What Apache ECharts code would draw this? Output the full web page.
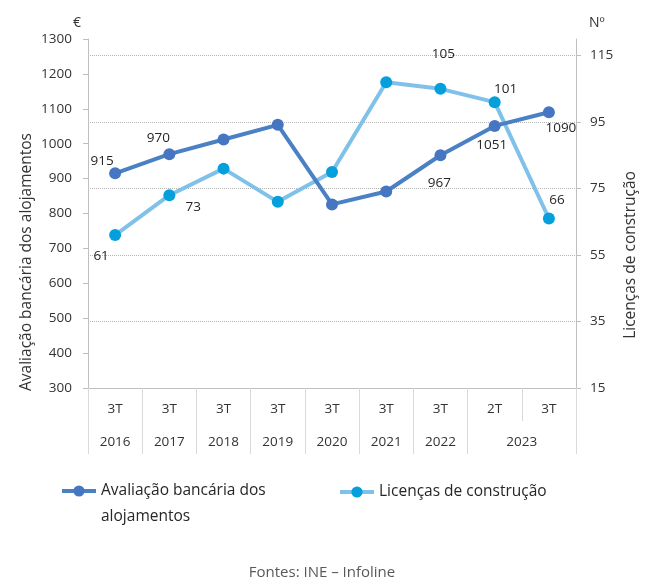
<!DOCTYPE html>
<html>
<head>
<meta charset="utf-8">
<script src="https://cdn.jsdelivr.net/npm/echarts@6/dist/echarts.min.js"></script>
<style>
html,body{margin:0;padding:0;background:#fff;}
#chart{width:649px;height:583px;}
</style>
</head>
<body>
<div id="chart"></div>
<script>
// ---- data ----
var quarters = ['3T', '3T', '3T', '3T', '3T', '3T', '3T', '2T', '3T'];
var years = ['2016', '2017', '2018', '2019', '2020', '2021', '2022', '2023', ''];
var avaliacao = [915, 970, 1012, 1054, 826, 863, 967, 1051, 1090];
var licencas = [61, 73, 81, 71, 80, 107, 105, 101, 66];
var leftTicks = [300, 1300, 100];   // min, max, interval
var rightTicks = [15, 120, 20];     // min, max, interval
var nameA = 'Avaliação bancária dos alojamentos';
var nameB = 'Licenças de construção';

// ---- styling (label placement per point) ----
var labelOffA = {0: [-13, -12], 1: [-11, -16], 6: [-1, 28], 7: [-3, 19], 8: [12, 16]};
var labelOffB = {0: [-14, 21], 1: [24, 12], 6: [3, -35], 7: [11, -13], 8: [8, -18]};

var FONT = 'Open Sans';
var TXT = '#333333';

function withLabels(values, offs) {
  return values.map(function (v, i) {
    var o = offs[i];
    return {
      value: v,
      label: o ? {show: true, position: 'inside', offset: o} : {show: false}
    };
  });
}

var chart = echarts.init(document.getElementById('chart'), null, {renderer: 'canvas'});
var labelStyle = {
  color: '#262626', fontFamily: FONT, fontSize: 13.5, align: 'center', verticalAlign: 'middle'
};

chart.setOption({
  animation: false,
  backgroundColor: '#ffffff',
  textStyle: {fontFamily: FONT},
  grid: {left: 88, right: 73, top: 39, bottom: 195, containLabel: false},
  legend: [
    {
      data: [nameA], left: 60, top: 452, padding: 0, itemWidth: 34, itemHeight: 14, itemGap: 0,
      lineStyle: {width: 4},
      formatter: function () { return ' \nAvaliação bancária dos\nalojamentos'; },
      textStyle: {fontFamily: FONT, fontSize: 15.5, color: '#262626', lineHeight: 26}
    },
    {
      data: [nameB], left: 338, top: 484, padding: 0, itemWidth: 34, itemHeight: 14,
      lineStyle: {width: 4},
      textStyle: {fontFamily: FONT, fontSize: 15.5, color: '#262626'}
    }
  ],
  xAxis: [
    {
      type: 'category', data: quarters, position: 'bottom', boundaryGap: true,
      axisLine: {show: true, lineStyle: {color: '#bfbfbf', width: 1}},
      axisTick: {show: true, interval: 0, length: 33, lineStyle: {color: '#d9d9d9'}},
      axisLabel: {interval: 0, margin: 14, color: TXT, fontFamily: FONT, fontSize: 13.5},
      splitLine: {show: false}
    },
    {
      type: 'category', data: years, position: 'bottom', offset: 33, boundaryGap: true,
      axisLine: {show: false},
      axisTick: {show: true, length: 33, lineStyle: {color: '#d9d9d9'},
        interval: function (idx) { return idx !== years.length - 1; }},
      axisLabel: {
        interval: 0, margin: 14, color: TXT, fontFamily: FONT, fontSize: 13.5,
        formatter: function (v, idx) {
          if (idx === years.length - 2) { return '{s|' + v + '}'; }
          return v;
        },
        rich: {s: {padding: [0, 0, 0, 54], color: TXT, fontFamily: FONT, fontSize: 13.5}}
      },
      splitLine: {show: false}
    }
  ],
  yAxis: [
    {
      type: 'value', min: leftTicks[0], max: leftTicks[1], interval: leftTicks[2], position: 'left',
      name: '€', nameLocation: 'end', nameGap: 9,
      nameTextStyle: {color: TXT, fontFamily: FONT, fontSize: 14, align: 'right', padding: [0, 7, 0, 0]},
      axisLine: {show: true, lineStyle: {color: '#bfbfbf'}},
      axisTick: {show: true, length: 5, lineStyle: {color: '#bfbfbf'}},
      axisLabel: {margin: 16, color: TXT, fontFamily: FONT, fontSize: 13.5,
        formatter: function (v) { return String(v); }},
      splitLine: {show: false}
    },
    {
      type: 'value', min: rightTicks[0], max: rightTicks[1], interval: rightTicks[2], position: 'right',
      name: 'Nº', nameLocation: 'end', nameGap: 9,
      nameTextStyle: {color: TXT, fontFamily: FONT, fontSize: 14, align: 'left', padding: [0, 0, 0, 13]},
      axisLine: {show: true, lineStyle: {color: '#bfbfbf'}},
      axisTick: {show: true, length: 5, lineStyle: {color: '#bfbfbf'}},
      axisLabel: {margin: 14, color: TXT, fontFamily: FONT, fontSize: 13.5, showMaxLabel: false},
      splitLine: {show: true, showMinLine: false, showMaxLine: false,
        lineStyle: {color: '#b3b3b3', type: [1, 1], width: 1}}
    }
  ],
  series: [
    {
      name: nameA, type: 'line', xAxisIndex: 0, yAxisIndex: 0,
      data: withLabels(avaliacao, labelOffA),
      symbol: 'circle', symbolSize: 12,
      lineStyle: {color: '#4a80c4', width: 4},
      itemStyle: {color: '#4676c2'},
      label: labelStyle, z: 3
    },
    {
      name: nameB, type: 'line', xAxisIndex: 0, yAxisIndex: 1,
      data: withLabels(licencas, labelOffB),
      symbol: 'circle', symbolSize: 12,
      lineStyle: {color: '#80c1ea', width: 4},
      itemStyle: {color: '#05a0dc'},
      label: labelStyle, z: 2
    }
  ],
  graphic: [
    {type: 'text', rotation: Math.PI / 2, x: 27, y: 262,
      style: {text: nameA, fontFamily: FONT, fontSize: 15.5, fill: TXT, align: 'center', verticalAlign: 'middle'}},
    {type: 'text', rotation: Math.PI / 2, x: 631, y: 255,
      style: {text: nameB, fontFamily: FONT, fontSize: 15.5, fill: TXT, align: 'center', verticalAlign: 'middle'}},
    {type: 'text', x: 322, y: 573,
      style: {text: 'Fontes: INE – Infoline', fontFamily: FONT, fontSize: 15, fill: '#595959', align: 'center', verticalAlign: 'middle'}}
  ]
});
</script>
</body>
</html>
